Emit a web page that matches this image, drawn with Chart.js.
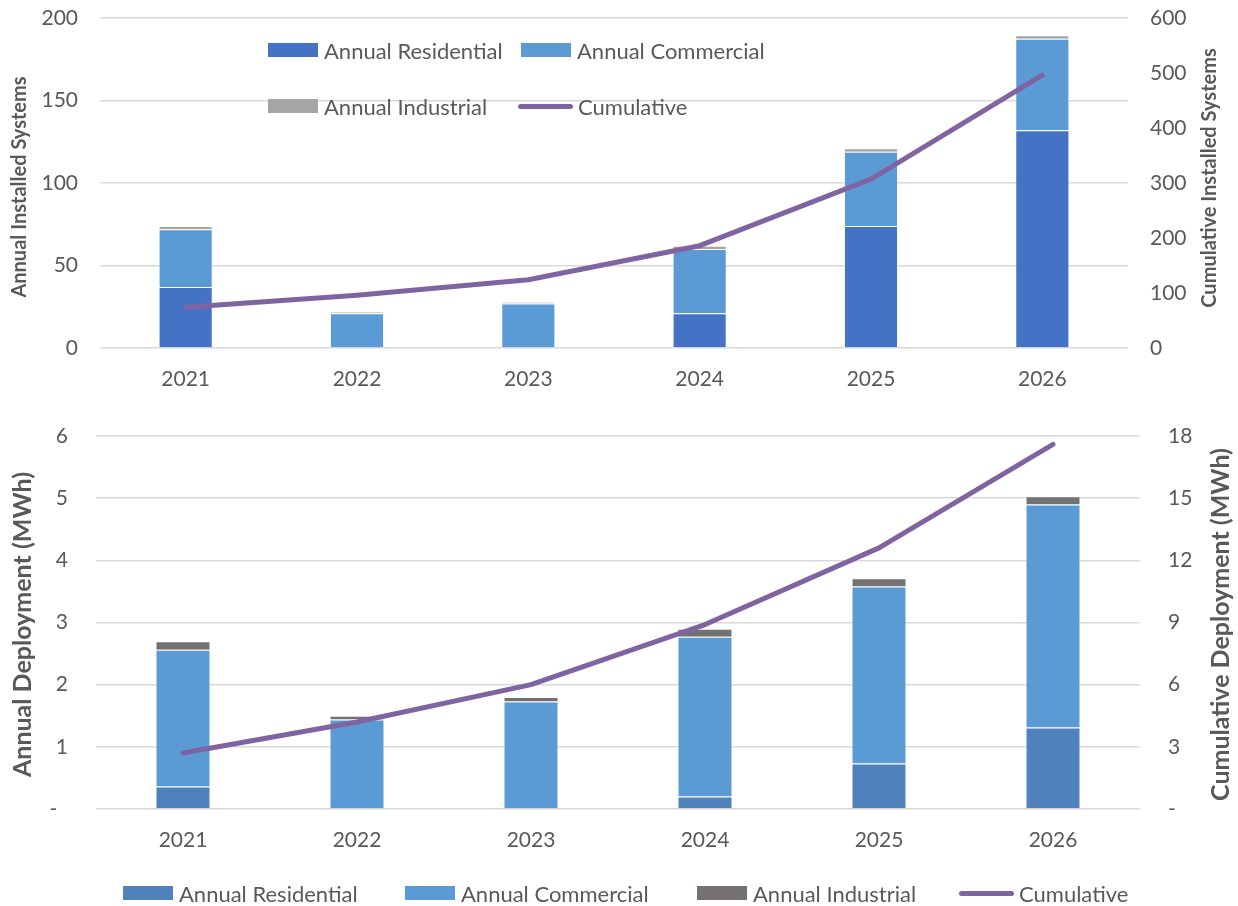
<!DOCTYPE html>
<html>
<head>
<meta charset="utf-8">
<script src="https://cdn.jsdelivr.net/npm/chart.js@4.4.1/dist/chart.umd.min.js"></script>
<style>
  body { margin: 0; background: #fff; font-family: Lato, sans-serif; }
  #wrap { position: relative; width: 1238px; height: 906px; }
  .pane { position: absolute; left: 0; width: 1238px; }
  .leg { position: absolute; height: 30px; display: flex; align-items: center;
         font-size: 22px; color: #595959; white-space: nowrap; }
  .sw { display: inline-block; width: 50px; height: 14px; margin-right: 6px; }
  .ln { display: inline-block; width: 55px; height: 5px; border-radius: 3px; margin-right: 5px; }
</style>
</head>
<body>
<div id="wrap">
  <div class="pane" style="top:0;height:400px"><canvas id="graficoSistemas"></canvas></div>
  <div class="pane" style="top:400px;height:506px"><canvas id="graficoEnergia"></canvas></div>
</div>
<script>
// dados
const years = ['2021', '2022', '2023', '2024', '2025', '2026'];
const seriesNames = ['Annual Residential', 'Annual Commercial', 'Annual Industrial', 'Cumulative'];

// top chart: installed systems
const sysResidential = [37, 0, 0, 21, 74, 132];
const sysCommercial = [35, 21, 27, 39, 45, 55.5];
const sysIndustrial = [2, 1, 1, 2, 2, 2];
const sysCumulative = [74, 96, 124, 186, 307, 496];

// bottom chart: deployment (MWh)
const mwhResidential = [0.36, 0, 0, 0.2, 0.73, 1.31];
const mwhCommercial = [2.2, 1.44, 1.73, 2.57, 2.85, 3.59];
const mwhIndustrial = [0.14, 0.06, 0.07, 0.13, 0.13, 0.13];
const mwhCumulative = [2.7, 4.2, 6.0, 8.9, 12.6, 17.6];

const grey = '#595959';
const gridColor = '#D9D9D9';
const tickFont = { family: 'Lato', size: 21 };

// vertical axis titles, both reading bottom-to-top
const sideTitles = {
    id: 'sideTitles',
    afterDraw(chart, args, opts) {
        const { ctx, chartArea } = chart;
        const cy = (chartArea.top + chartArea.bottom) / 2;
        ctx.save();
        ctx.font = 'bold ' + opts.size + 'px Lato';
        ctx.fillStyle = grey;
        ctx.textAlign = 'center';
        ctx.textBaseline = 'middle';
        for (const t of opts.items) {
            ctx.save();
            ctx.translate(t.x, cy + (t.dy || 0));
            ctx.rotate(-Math.PI / 2);
            ctx.fillText(t.text, 0, 0);
            ctx.restore();
        }
        ctx.restore();
    }
};

function barSet(label, data, color) {
    return {
        label, data,
        backgroundColor: color,
        borderColor: 'rgba(255,255,255,0.45)',
        borderWidth: 1,
        stack: 'annual',
        yAxisID: 'y',
        order: 1,
        categoryPercentage: 1,
        barPercentage: 0.316
    };
}

function lineSet(label, data) {
    return {
        type: 'line', label, data,
        borderColor: '#8064A2',
        borderWidth: 5,
        borderCapStyle: 'round',
        borderJoinStyle: 'round',
        pointRadius: 0,
        tension: 0,
        yAxisID: 'y2',
        order: 0
    };
}

// tick gap is made with an invisible tick mark, so it does not push the plot top down
function makeOptions(cfg) {
    return {
        responsive: true,
        maintainAspectRatio: false,
        animation: false,
        layout: { padding: { top: cfg.padTop, left: 0, right: 0, bottom: 0 } },
        plugins: {
            legend: { display: false },
            tooltip: { enabled: false },
            sideTitles: { items: cfg.titles, size: cfg.titleSize }
        },
        scales: {
            x: {
                stacked: true,
                grid: { display: false },
                border: { display: false },
                ticks: { color: grey, font: tickFont, padding: cfg.xPad },
                afterFit: s => { s.height = cfg.xHeight; }
            },
            y: {
                stacked: true,
                position: 'left',
                min: 0, max: cfg.yMax,
                grid: { color: gridColor, lineWidth: 1.5, tickLength: cfg.yGap, tickColor: 'rgba(0,0,0,0)' },
                border: { display: false },
                ticks: { stepSize: cfg.yStep, color: grey, font: tickFont, padding: 0, callback: cfg.yFmt },
                afterFit: s => { s.width = cfg.leftW; }
            },
            y2: {
                position: 'right',
                min: 0, max: cfg.y2Max,
                grid: { drawOnChartArea: false, tickLength: cfg.yGap, tickColor: 'rgba(0,0,0,0)' },
                border: { display: false },
                ticks: { stepSize: cfg.y2Step, color: grey, font: tickFont, padding: 0, callback: cfg.y2Fmt },
                afterFit: s => { s.width = cfg.rightW; }
            }
        }
    };
}

// gráfico: sistemas instalados
new Chart(document.getElementById('graficoSistemas'), {
    type: 'bar',
    data: {
        labels: years,
        datasets: [
            lineSet(seriesNames[3], sysCumulative),
            barSet(seriesNames[0], sysResidential, '#4472C4'),
            barSet(seriesNames[1], sysCommercial, '#5B9BD5'),
            barSet(seriesNames[2], sysIndustrial, '#A5A5A5')
        ]
    },
    options: makeOptions({
        padTop: 18, xHeight: 52, xPad: 11, leftW: 100, rightW: 110, yGap: 22,
        yMax: 200, yStep: 50, y2Max: 600, y2Step: 100,
        yFmt: v => v, y2Fmt: v => v,
        titleSize: 20,
        titles: [
            { text: 'Annual Installed Systems', x: 20, dy: 4 },
            { text: 'Cumulative Installed Systems', x: 1210, dy: -5 }
        ]
    }),
    plugins: [sideTitles]
});

// gráfico: energia (MWh)
new Chart(document.getElementById('graficoEnergia'), {
    type: 'bar',
    data: {
        labels: years,
        datasets: [
            lineSet(seriesNames[3], mwhCumulative),
            barSet(seriesNames[0], mwhResidential, '#4F81BD'),
            barSet(seriesNames[1], mwhCommercial, '#5B9BD5'),
            barSet(seriesNames[2], mwhIndustrial, '#767171')
        ]
    },
    options: makeOptions({
        padTop: 36, xHeight: 97, xPad: 11, leftW: 96, rightW: 98, yGap: 28,
        yMax: 6, yStep: 1, y2Max: 18, y2Step: 3,
        yFmt: v => (v === 0 ? '-  ' : v), y2Fmt: v => (v === 0 ? '-' : v),
        titleSize: 25,
        titles: [
            { text: 'Annual Deployment (MWh)', x: 23, dy: 2 },
            { text: 'Cumulative Deployment (MWh)', x: 1221, dy: 2 }
        ]
    }),
    plugins: [sideTitles]
});

// legends (HTML)
const wrap = document.getElementById('wrap');
function addLegend(items) {
    items.forEach(it => {
        const d = document.createElement('div');
        d.className = 'leg';
        d.style.left = it.x + 'px';
        d.style.top = (it.y - 15) + 'px';
        const mark = document.createElement('span');
        mark.className = it.line ? 'ln' : 'sw';
        mark.style.background = it.color;
        d.appendChild(mark);
        d.appendChild(document.createTextNode(it.text));
        wrap.appendChild(d);
    });
}
addLegend([
    { text: seriesNames[0], color: '#4472C4', x: 268, y: 50 },
    { text: seriesNames[1], color: '#5B9BD5', x: 521, y: 50 },
    { text: seriesNames[2], color: '#A5A5A5', x: 268, y: 106 },
    { text: seriesNames[3], color: '#8064A2', x: 518, y: 106, line: true }
]);
addLegend([
    { text: seriesNames[0], color: '#4F81BD', x: 123, y: 893 },
    { text: seriesNames[1], color: '#5B9BD5', x: 405, y: 893 },
    { text: seriesNames[2], color: '#767171', x: 697, y: 893 },
    { text: seriesNames[3], color: '#8064A2', x: 959, y: 893, line: true }
]);
</script>
</body>
</html>
